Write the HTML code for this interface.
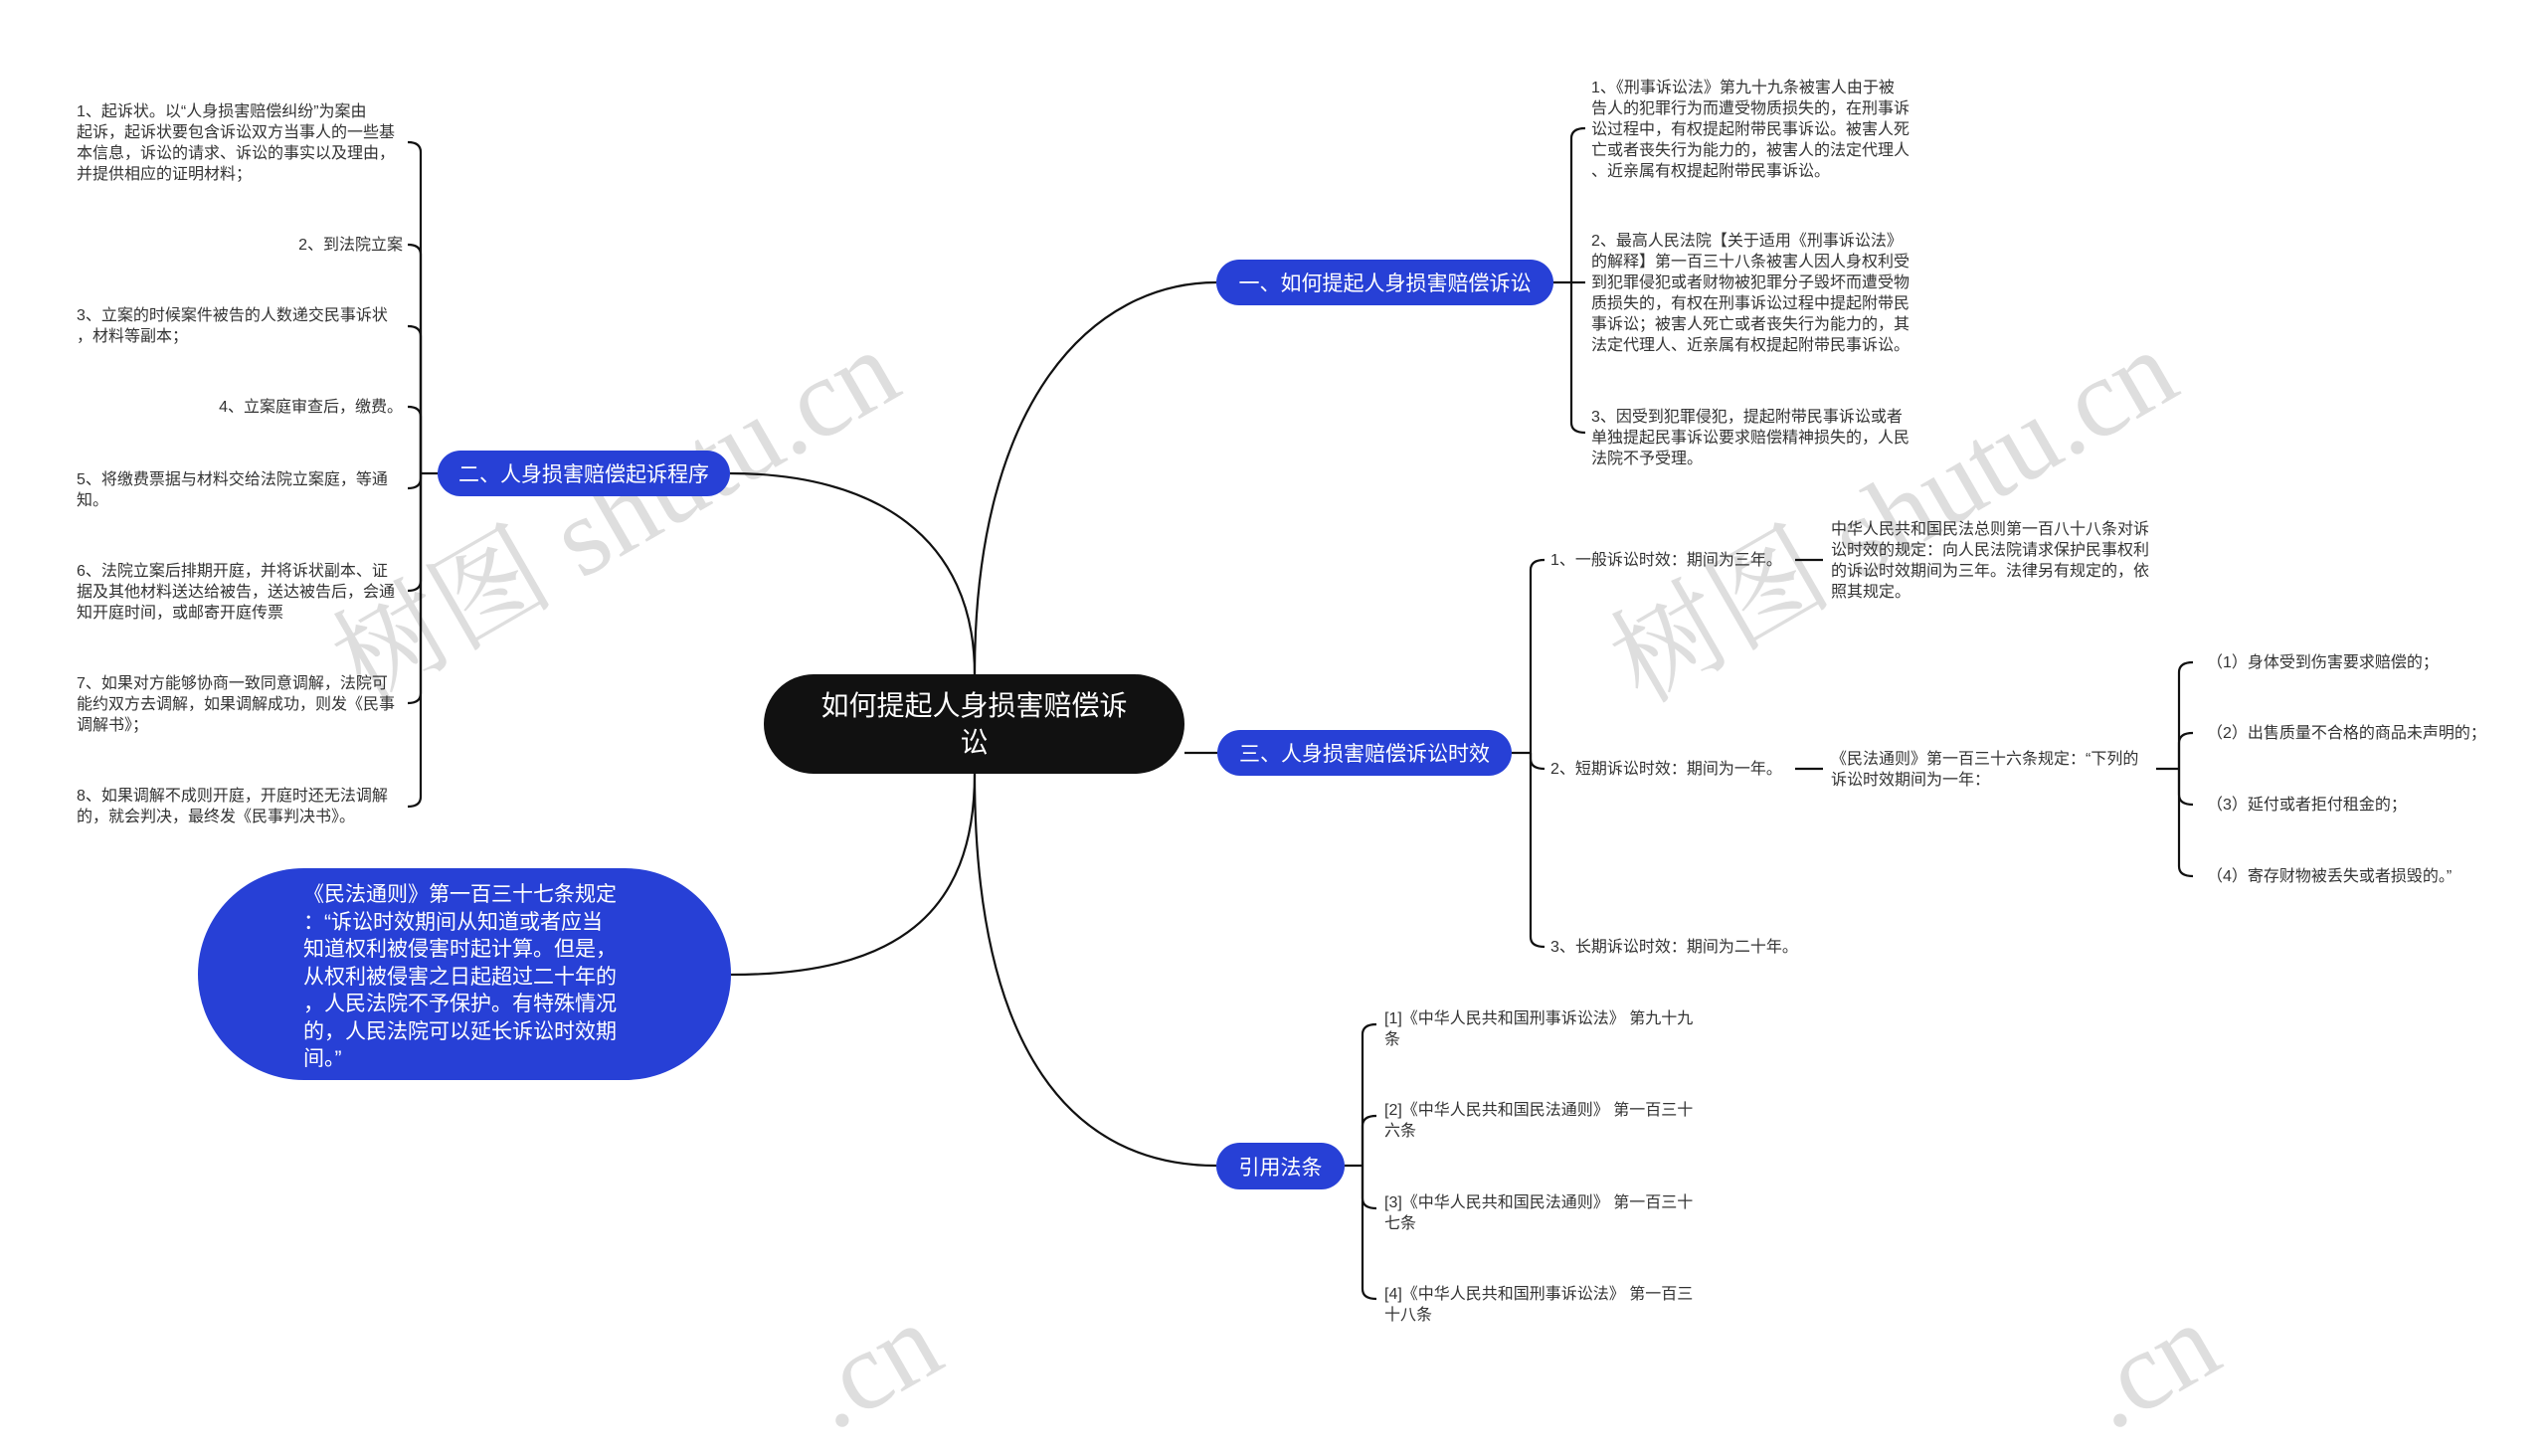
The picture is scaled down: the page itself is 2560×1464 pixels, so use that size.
<!DOCTYPE html>
<html><head><meta charset="utf-8"><style>
html,body{margin:0;padding:0}
body{width:2560px;height:1403px;position:relative;background:#fff;overflow:hidden;font-family:"Liberation Sans","Noto Sans CJK SC",sans-serif}
.t{position:absolute;font-size:16px;line-height:21px;color:#333;white-space:nowrap}
.b{position:absolute;background:#2740d6;color:#fff;font-size:21px;border-radius:24px;display:flex;align-items:center;justify-content:center;white-space:nowrap}
.wm{position:absolute;font-size:112px;color:#d6d6d6;transform:rotate(-30deg);white-space:nowrap;font-family:"Liberation Serif","Noto Serif CJK SC",serif;opacity:.8}
</style></head><body>
<div class="wm" style="left:300px;top:430px">树图 shutu.cn</div>
<div class="wm" style="left:1585px;top:430px">树图 shutu.cn</div>
<div class="wm" style="left:810px;top:1310px">.cn</div>
<div class="wm" style="left:2095px;top:1310px">.cn</div>
<svg width="2560" height="1403" style="position:absolute;left:0;top:0" fill="none" stroke="#111" stroke-width="2.2">
<path d="M980 678 C980 400 1100 284 1223 284"/>
<path d="M980 678 C980 540 880 476 734 476"/>
<path d="M1191 757 H1224"/>
<path d="M980 778 C980 920 900 980 735 980"/>
<path d="M980 778 C980 1060 1080 1172 1223 1172"/>
<path d="M440 476 H423"/>
<path d="M423 476 V153 Q423 143 410 143"/><path d="M423 476 V256 Q423 246 410 246"/><path d="M423 476 V338 Q423 328 410 328"/><path d="M423 476 V419 Q423 409 410 409"/>
<path d="M423 476 V481 Q423 491 410 491"/><path d="M423 476 V584 Q423 594 410 594"/><path d="M423 476 V697 Q423 707 410 707"/><path d="M423 476 V801 Q423 811 410 811"/>
<path d="M1562 284 H1580"/>
<path d="M1580 284 V139 Q1580 129 1594 129"/><path d="M1580 284 Q1580 284 1594 284"/><path d="M1580 284 V425 Q1580 435 1594 435"/>
<path d="M1520 757 H1539"/>
<path d="M1539 757 V573 Q1539 563 1553 563"/><path d="M1539 757 V763 Q1539 773 1553 773"/><path d="M1539 757 V942 Q1539 952 1553 952"/>
<path d="M1805 563 H1833"/><path d="M1805 773 H1833"/>
<path d="M2168 773 H2191"/>
<path d="M2191 773 V676 Q2191 666 2205 666"/><path d="M2191 773 V747 Q2191 737 2205 737"/><path d="M2191 773 V799 Q2191 809 2205 809"/><path d="M2191 773 V871 Q2191 881 2205 881"/>
<path d="M1352 1172 H1370"/>
<path d="M1370 1172 V1040 Q1370 1030 1384 1030"/><path d="M1370 1172 V1132 Q1370 1122 1384 1122"/><path d="M1370 1172 V1205 Q1370 1215 1384 1215"/><path d="M1370 1172 V1296 Q1370 1306 1384 1306"/>
</svg>

<div style="position:absolute;left:768px;top:678px;width:423px;height:100px;background:#111;border-radius:50px;color:#fff;font-size:28px;line-height:37px;text-align:center;display:flex;align-items:center;justify-content:center">如何提起人身损害赔偿诉<br>讼</div>

<div class="b" style="left:1223px;top:261px;width:339px;height:46px">一、如何提起人身损害赔偿诉讼</div>
<div class="b" style="left:440px;top:453px;width:294px;height:46px">二、人身损害赔偿起诉程序</div>
<div class="b" style="left:1224px;top:734px;width:296px;height:46px">三、人身损害赔偿诉讼时效</div>
<div class="b" style="left:1223px;top:1149px;width:129px;height:47px">引用法条</div>

<div style="position:absolute;left:199px;top:873px;width:536px;height:213px;background:#2740d6;border-radius:107px;color:#fff;font-size:21px;line-height:27.5px"><div style="position:absolute;left:106px;top:13px;white-space:nowrap">《民法通则》第一百三十七条规定<br>：“诉讼时效期间从知道或者应当<br>知道权利被侵害时起计算。但是，<br>从权利被侵害之日起超过二十年的<br>，人民法院不予保护。有特殊情况<br>的，人民法院可以延长诉讼时效期<br>间。”</div></div>

<div class="t" style="left:77px;top:102px">1、起诉状。以“人身损害赔偿纠纷”为案由<br>起诉，起诉状要包含诉讼双方当事人的一些基<br>本信息，诉讼的请求、诉讼的事实以及理由，<br>并提供相应的证明材料；</div>
<div class="t" style="right:2155px;top:236px">2、到法院立案</div>
<div class="t" style="left:77px;top:307px">3、立案的时候案件被告的人数递交民事诉状<br>，材料等副本；</div>
<div class="t" style="right:2155px;top:399px">4、立案庭审查后，缴费。</div>
<div class="t" style="left:77px;top:472px">5、将缴费票据与材料交给法院立案庭，等通<br>知。</div>
<div class="t" style="left:77px;top:564px">6、法院立案后排期开庭，并将诉状副本、证<br>据及其他材料送达给被告，送达被告后，会通<br>知开庭时间，或邮寄开庭传票</div>
<div class="t" style="left:77px;top:677px">7、如果对方能够协商一致同意调解，法院可<br>能约双方去调解，如果调解成功，则发《民事<br>调解书》；</div>
<div class="t" style="left:77px;top:790px">8、如果调解不成则开庭，开庭时还无法调解<br>的，就会判决，最终发《民事判决书》。</div>

<div class="t" style="left:1600px;top:78px"> 1、《刑事诉讼法》第九十九条被害人由于被<br>告人的犯罪行为而遭受物质损失的，在刑事诉<br>讼过程中，有权提起附带民事诉讼。被害人死<br>亡或者丧失行为能力的，被害人的法定代理人<br>、近亲属有权提起附带民事诉讼。</div>
<div class="t" style="left:1600px;top:232px"> 2、最高人民法院【关于适用《刑事诉讼法》<br>的解释】第一百三十八条被害人因人身权利受<br>到犯罪侵犯或者财物被犯罪分子毁坏而遭受物<br>质损失的，有权在刑事诉讼过程中提起附带民<br>事诉讼；被害人死亡或者丧失行为能力的，其<br>法定代理人、近亲属有权提起附带民事诉讼。</div>
<div class="t" style="left:1600px;top:409px"> 3、因受到犯罪侵犯，提起附带民事诉讼或者<br>单独提起民事诉讼要求赔偿精神损失的，人民<br>法院不予受理。</div>

<div class="t" style="left:1559px;top:553px">1、一般诉讼时效：期间为三年。</div>
<div class="t" style="left:1559px;top:763px">2、短期诉讼时效：期间为一年。</div>
<div class="t" style="left:1559px;top:942px">3、长期诉讼时效：期间为二十年。</div>
<div class="t" style="left:1841px;top:522px">中华人民共和国民法总则第一百八十八条对诉<br>讼时效的规定：向人民法院请求保护民事权利<br>的诉讼时效期间为三年。法律另有规定的，依<br>照其规定。</div>
<div class="t" style="left:1841px;top:753px">《民法通则》第一百三十六条规定：“下列的<br>诉讼时效期间为一年：</div>
<div class="t" style="left:2219px;top:656px">（1）身体受到伤害要求赔偿的；</div>
<div class="t" style="left:2219px;top:727px">（2）出售质量不合格的商品未声明的；</div>
<div class="t" style="left:2219px;top:799px">（3）延付或者拒付租金的；</div>
<div class="t" style="left:2219px;top:871px">（4）寄存财物被丢失或者损毁的。”</div>

<div class="t" style="left:1392px;top:1014px">[1]《中华人民共和国刑事诉讼法》 第九十九<br>条</div>
<div class="t" style="left:1392px;top:1106px">[2]《中华人民共和国民法通则》 第一百三十<br>六条</div>
<div class="t" style="left:1392px;top:1199px">[3]《中华人民共和国民法通则》 第一百三十<br>七条</div>
<div class="t" style="left:1392px;top:1291px">[4]《中华人民共和国刑事诉讼法》 第一百三<br>十八条</div>
</body></html>
